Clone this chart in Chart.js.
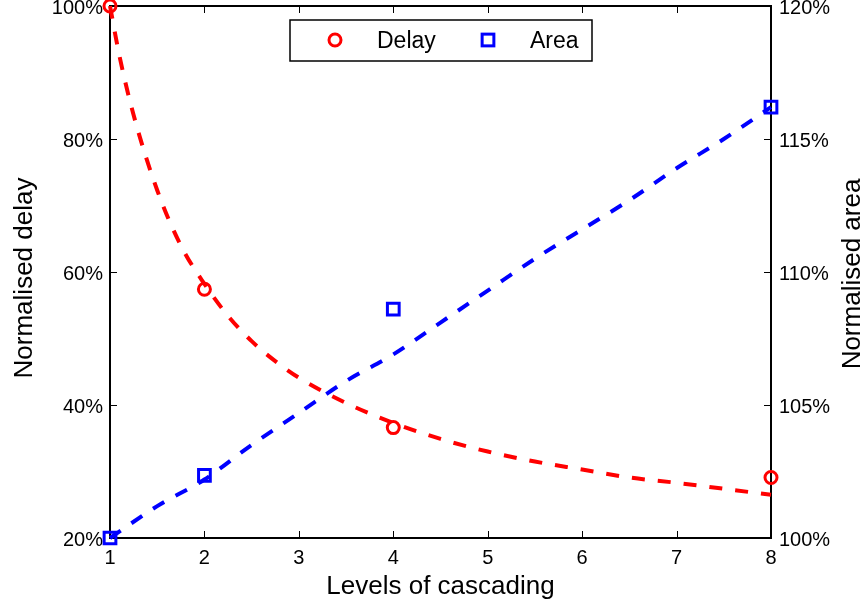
<!DOCTYPE html>
<html>
<head>
<meta charset="utf-8">
<title>Normalised delay and area vs levels of cascading</title>
<script src="https://cdn.jsdelivr.net/npm/chart.js@4.4.1/dist/chart.umd.min.js"></script>
<style>
  body { margin: 0; background: #fff; }
  canvas { display: block; }
</style>
</head>
<body>
<canvas id="myChart" width="865" height="604"></canvas>
<script>
// measured points
var levels = [1, 2, 4, 8];
var delay = [100, 57.4, 36.6, 29.1];
var area = [100, 102.35, 108.6, 116.2];

// dashed trend curves
var delayFitLevels = [1, 1.1, 1.25, 1.5, 1.75, 2, 2.25, 2.5, 2.75, 3, 3.5, 4, 4.5, 5, 5.5, 6, 6.5, 7, 7.5, 8];
var delayFit = [100, 92.5, 83.6, 72.3, 64.0, 58.2, 53.4, 49.6, 46.6, 44.1, 40.3, 37.3, 34.9, 33.0, 31.5, 30.3, 29.1, 28.3, 27.4, 26.5];
var areaFitLevels = [1, 1.5, 2, 2.5, 3, 3.5, 4, 4.5, 5, 5.5, 6, 6.5, 7, 7.5, 8];
var areaFit = [100, 101.2, 102.2, 103.5, 104.7, 105.9, 106.9, 108.1, 109.3, 110.5, 111.6, 112.7, 113.9, 115.0, 116.2];

// axis ticks
var levelTicks = [1, 2, 3, 4, 5, 6, 7, 8];
var delayTicks = [20, 40, 60, 80, 100];
var areaTicks = [100, 105, 110, 115, 120];

var FONT = "'Liberation Sans', Arial, Helvetica, sans-serif";
var RED = "#ff0000";
var BLUE = "#0000ff";

function pts(xs, ys) {
  return xs.map((x, i) => ({ x: x, y: ys[i] }));
}

// box, inward tick marks, axis titles and the boxed legend
var frame = {
  id: "frame",
  beforeDatasetsDraw(chart) {
    var ctx = chart.ctx;
    var a = chart.chartArea;
    var sx = chart.scales.x, sy = chart.scales.y, sy1 = chart.scales.y1;
    ctx.save();
    ctx.strokeStyle = "#000";
    ctx.lineWidth = 1;
    ctx.beginPath();
    sx.ticks.forEach(t => {
      var px = Math.round(sx.getPixelForValue(t.value)) + 0.5;
      ctx.moveTo(px, a.bottom);
      ctx.lineTo(px, a.bottom - 7);
      ctx.moveTo(px, a.top);
      ctx.lineTo(px, a.top + 7);
    });
    sy.ticks.forEach(t => {
      var py = Math.round(sy.getPixelForValue(t.value)) + 0.5;
      ctx.moveTo(a.left, py);
      ctx.lineTo(a.left + 7, py);
    });
    sy1.ticks.forEach(t => {
      var py = Math.round(sy1.getPixelForValue(t.value)) + 0.5;
      ctx.moveTo(a.right, py);
      ctx.lineTo(a.right - 7, py);
    });
    ctx.stroke();
    ctx.lineWidth = 2;
    ctx.strokeRect(a.left, a.top, a.right - a.left, a.bottom - a.top);
    ctx.restore();
  },
  afterDraw(chart) {
    var ctx = chart.ctx;
    var a = chart.chartArea;
    ctx.save();
    ctx.fillStyle = "#000";
    ctx.font = "26px " + FONT;
    ctx.textAlign = "center";
    ctx.textBaseline = "alphabetic";
    ctx.fillText("Levels of cascading", (a.left + a.right) / 2, 594);

    ctx.save();
    ctx.translate(32, 278);
    ctx.rotate(-Math.PI / 2);
    ctx.fillText("Normalised delay", 0, 0);
    ctx.restore();

    ctx.save();
    ctx.translate(860, 274);
    ctx.rotate(-Math.PI / 2);
    ctx.fillText("Normalised area", 0, 0);
    ctx.restore();

    // legend
    ctx.fillStyle = "#fff";
    ctx.fillRect(290, 20, 302, 41);
    ctx.strokeStyle = "#000";
    ctx.lineWidth = 1.5;
    ctx.strokeRect(290, 20, 302, 41);

    var d0 = chart.data.datasets[0], d1 = chart.data.datasets[1];
    ctx.lineWidth = d0.borderWidth;
    ctx.strokeStyle = d0.borderColor;
    ctx.beginPath();
    ctx.arc(335, 40, d0.pointRadius, 0, Math.PI * 2);
    ctx.stroke();

    var side = d1.pointRadius * Math.SQRT1_2 * 2;
    ctx.lineWidth = d1.borderWidth;
    ctx.strokeStyle = d1.borderColor;
    ctx.strokeRect(488 - side / 2, 40 - side / 2, side, side);

    ctx.fillStyle = "#000";
    ctx.font = "23px " + FONT;
    ctx.textAlign = "left";
    ctx.fillText(d0.label, 377, 48);
    ctx.fillText(d1.label, 530, 48);
    ctx.restore();
  }
};

var tickFont = { family: FONT, size: 20 };

var ctx = document.getElementById("myChart").getContext("2d");
var chart = new Chart(ctx, {
  type: "scatter",
  data: {
    datasets: [
      {
        label: "Delay",
        data: pts(levels, delay),
        yAxisID: "y",
        pointStyle: "circle",
        pointRadius: 6,
        borderWidth: 3,
        borderColor: RED,
        backgroundColor: "rgba(0,0,0,0)",
        clip: false,
        order: 0
      },
      {
        label: "Area",
        data: pts(levels, area),
        yAxisID: "y1",
        pointStyle: "rect",
        pointRadius: 8.3,
        borderWidth: 3,
        borderColor: BLUE,
        backgroundColor: "rgba(0,0,0,0)",
        clip: false,
        order: 0
      },
      {
        label: "Delay fit",
        data: pts(delayFitLevels, delayFit),
        yAxisID: "y",
        showLine: true,
        pointRadius: 0,
        borderWidth: 4,
        borderColor: RED,
        borderDash: [13, 13],
        cubicInterpolationMode: "monotone",
        clip: false,
        order: 1
      },
      {
        label: "Area fit",
        data: pts(areaFitLevels, areaFit),
        yAxisID: "y1",
        showLine: true,
        pointRadius: 0,
        borderWidth: 4,
        borderColor: BLUE,
        borderDash: [13, 13],
        cubicInterpolationMode: "monotone",
        clip: false,
        order: 1
      }
    ]
  },
  options: {
    responsive: false,
    animation: false,
    layout: { autoPadding: false, padding: { top: 6, left: 0, right: 0, bottom: 0 } },
    plugins: {
      legend: { display: false },
      tooltip: { enabled: false }
    },
    scales: {
      x: {
        type: "linear",
        position: "bottom",
        min: levelTicks[0],
        max: levelTicks[levelTicks.length - 1],
        afterBuildTicks: s => { s.ticks = levelTicks.map(v => ({ value: v })); },
        afterFit: s => { s.height = 66; s.paddingLeft = 0; s.paddingRight = 0; },
        grid: { display: false, drawTicks: false },
        border: { display: false },
        ticks: { color: "#000", font: tickFont, padding: 8, maxRotation: 0 }
      },
      y: {
        type: "linear",
        position: "left",
        min: delayTicks[0],
        max: delayTicks[delayTicks.length - 1],
        afterBuildTicks: s => { s.ticks = delayTicks.map(v => ({ value: v })); },
        afterFit: s => { s.width = 110; s.paddingTop = 0; s.paddingBottom = 0; },
        grid: { display: false, drawTicks: false },
        border: { display: false },
        ticks: {
          color: "#000", font: tickFont, padding: 7, labelOffset: 2,
          callback: v => v + "%"
        }
      },
      y1: {
        type: "linear",
        position: "right",
        min: areaTicks[0],
        max: areaTicks[areaTicks.length - 1],
        afterBuildTicks: s => { s.ticks = areaTicks.map(v => ({ value: v })); },
        afterFit: s => { s.width = 94; s.paddingTop = 0; s.paddingBottom = 0; },
        grid: { display: false, drawTicks: false },
        border: { display: false },
        ticks: {
          color: "#000", font: tickFont, padding: 8, labelOffset: 2,
          callback: v => v + "%"
        }
      }
    }
  },
  plugins: [frame]
});
</script>
</body>
</html>
